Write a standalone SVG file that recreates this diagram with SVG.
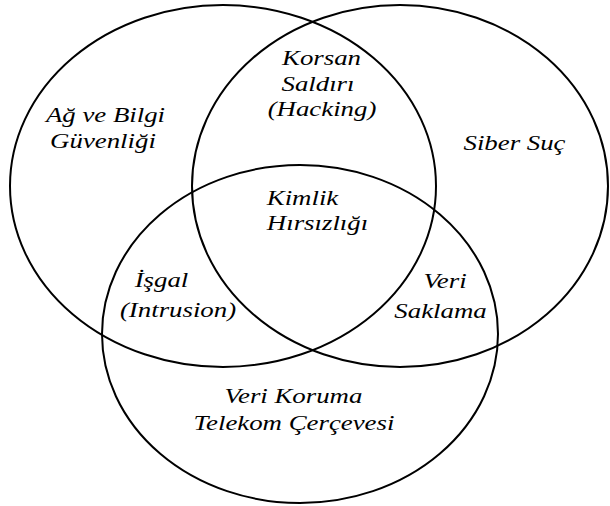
<svg xmlns="http://www.w3.org/2000/svg" width="610" height="506" viewBox="0 0 610 506">
<rect width="610" height="506" fill="#fff"/>
<g id="set-ag">
<ellipse cx="223" cy="186" rx="213" ry="181" fill="none" stroke="#000" stroke-width="2"/>
</g>
<g id="set-siber">
<ellipse cx="400" cy="186" rx="208" ry="181" fill="none" stroke="#000" stroke-width="2"/>
</g>
<g id="set-veri-koruma">
<ellipse cx="300" cy="334" rx="198" ry="169" fill="none" stroke="#000" stroke-width="2"/>
</g>
<g id="connectors"></g>
<g id="label-ag">
<text style="font-family:'Liberation Serif','Times New Roman',serif;font-style:italic;font-size:22px" text-anchor="middle" transform="translate(105.5,122) scale(1.22,1)">Ağ ve Bilgi</text>
<text style="font-family:'Liberation Serif','Times New Roman',serif;font-style:italic;font-size:22px" text-anchor="middle" transform="translate(103,148) scale(1.22,1)">Güvenliği</text>
</g>
<g id="label-korsan">
<text style="font-family:'Liberation Serif','Times New Roman',serif;font-style:italic;font-size:22px" text-anchor="middle" transform="translate(321.5,65) scale(1.22,1)">Korsan</text>
<text style="font-family:'Liberation Serif','Times New Roman',serif;font-style:italic;font-size:22px" text-anchor="middle" transform="translate(318,91) scale(1.22,1)">Saldırı</text>
<text style="font-family:'Liberation Serif','Times New Roman',serif;font-style:italic;font-size:22px" text-anchor="middle" transform="translate(322,116) scale(1.22,1)">(Hacking)</text>
</g>
<g id="label-siber">
<text style="font-family:'Liberation Serif','Times New Roman',serif;font-style:italic;font-size:22px" text-anchor="middle" transform="translate(514.5,150) scale(1.22,1)">Siber Suç</text>
</g>
<g id="label-kimlik">
<text style="font-family:'Liberation Serif','Times New Roman',serif;font-style:italic;font-size:22px" text-anchor="middle" transform="translate(302.5,205) scale(1.22,1)">Kimlik</text>
<text style="font-family:'Liberation Serif','Times New Roman',serif;font-style:italic;font-size:22px" text-anchor="middle" transform="translate(317.5,230) scale(1.22,1)">Hırsızlığı</text>
</g>
<g id="label-isgal">
<text style="font-family:'Liberation Serif','Times New Roman',serif;font-style:italic;font-size:22px" text-anchor="middle" transform="translate(161.5,287) scale(1.22,1)">İşgal</text>
<text style="font-family:'Liberation Serif','Times New Roman',serif;font-style:italic;font-size:22px" text-anchor="middle" transform="translate(178,317) scale(1.22,1)">(Intrusion)</text>
</g>
<g id="label-veri-saklama">
<text style="font-family:'Liberation Serif','Times New Roman',serif;font-style:italic;font-size:22px" text-anchor="middle" transform="translate(445,288) scale(1.22,1)">Veri</text>
<text style="font-family:'Liberation Serif','Times New Roman',serif;font-style:italic;font-size:22px" text-anchor="middle" transform="translate(440.5,318) scale(1.22,1)">Saklama</text>
</g>
<g id="label-veri-koruma">
<text style="font-family:'Liberation Serif','Times New Roman',serif;font-style:italic;font-size:22px" text-anchor="middle" transform="translate(293.5,403) scale(1.22,1)">Veri Koruma</text>
<text style="font-family:'Liberation Serif','Times New Roman',serif;font-style:italic;font-size:22px" text-anchor="middle" transform="translate(294,430) scale(1.22,1)">Telekom Çerçevesi</text>
</g>
</svg>
